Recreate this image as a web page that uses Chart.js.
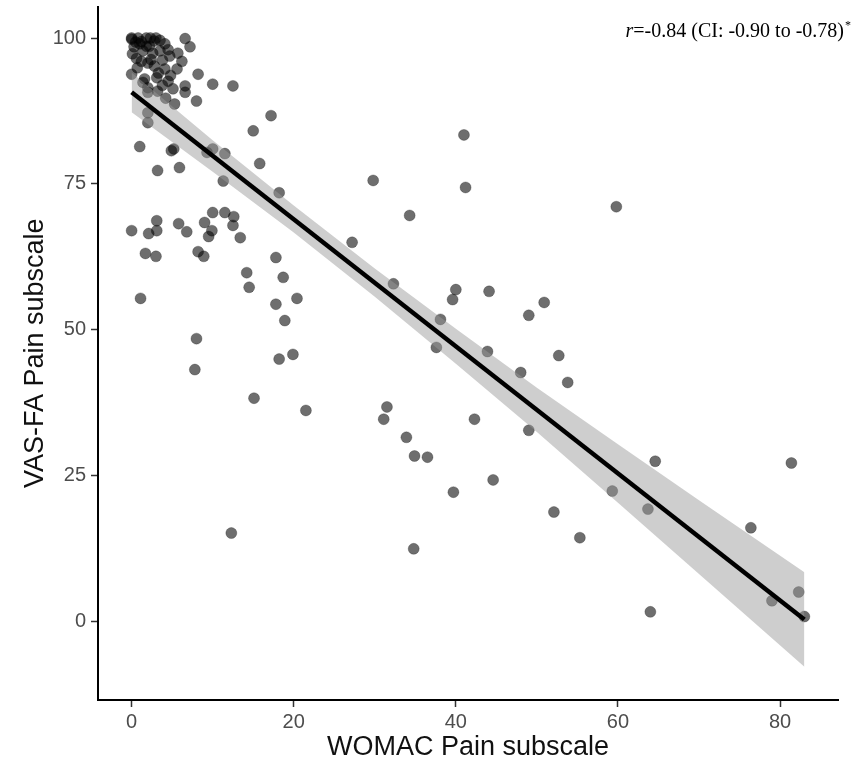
<!DOCTYPE html>
<html>
<head>
<meta charset="utf-8">
<script src="https://cdn.jsdelivr.net/npm/chart.js@4.4.1/dist/chart.umd.min.js"></script>
<style>
  html, body { margin: 0; padding: 0; background: #fff; }
</style>
</head>
<body>
<canvas id="myChart" width="854" height="773"></canvas>
<script>
// WOMAC pain (x) vs VAS-FA pain (y), one entry per subject
const womac = [
  0, 0.5, 1.8, 2.8, 4.1, 6.6, 7.2, 0.1, 1.4, 2.6, 3.5, 4.7, 5.7, 0, 0.7, 2, 2.8, 4.1, 5.6, 8.2,
  10, 1.6, 3.1, 4.5, 2, 3.2, 5.1, 6.6, 5.3, 6.6, 8, 2, 2, 12.5, 2, 17.2, 15, 1, 4.9, 5.2,
  10, 11.5, 9.3, 15.8, 3.2, 5.9, 11.3, 18.2, 1, 3.5, 2.2, 4.5, 1.2, 3.8, 6.2, 4.8, 3.8,
  0, 0.8, 1.2, 2.3, 3, 0.3, 1.8, 2.4, 3.3, 1.4, 4.2, 0.6,
  10, 11.5, 12.6, 12.5, 13.4, 0, 3.1, 3.1, 2.1, 5.8, 6.8, 9, 9.9, 9.5, 1.7, 3, 8.2, 8.9,
  17.8, 14.2, 18.7, 14.5, 1.1, 20.4, 17.8, 18.9, 8, 7.8, 18.2, 19.9, 15.1, 21.5, 12.3,
  41, 29.8, 41.2, 34.3, 27.2, 32.3, 40, 39.6, 44.1, 50.9, 49, 38.1, 37.6, 43.9, 52.7, 48,
  53.8, 31.5, 31.1, 42.3, 49, 33.9, 34.9, 36.5, 44.6, 39.7, 52.1, 55.3, 34.8, 59.8, 64.6,
  59.3, 63.7, 81.4, 76.4, 82.3, 79, 83, 64
];
const vasfa = [
  99.8, 99.3, 100, 99.5, 99, 99.9, 98.5, 97.3, 97.8, 97.4, 97.8, 96.9, 97.4, 93.8, 94.9, 95.7, 95.2, 94.7, 94.7, 93.8,
  92.1, 93, 93.2, 92.6, 91.5, 90.9, 91.3, 91.8, 88.7, 90.7, 89.2, 90.7, 87.2, 91.8, 85.5, 86.7, 84.1, 81.4, 80.7, 81,
  81, 80.2, 80.4, 78.5, 77.3, 77.8, 75.5, 73.5, 99, 99.6, 98.6, 98, 96, 96.2, 96, 93.6, 91.9,
  100, 100, 99.4, 100, 100, 98.5, 98.6, 96.3, 94, 92.4, 89.7, 96.5,
  70.1, 70.1, 69.4, 67.9, 65.8, 67, 68.7, 67, 66.5, 68.2, 66.8, 68.4, 67, 66, 63.1, 62.6, 63.4, 62.6,
  62.4, 59.8, 59, 57.3, 55.4, 55.4, 54.4, 51.6, 48.5, 43.2, 45, 45.8, 38.3, 36.2, 15.2,
  83.4, 75.6, 74.4, 69.6, 65, 57.9, 56.9, 55.2, 56.6, 54.7, 52.5, 51.8, 47, 46.3, 45.6, 42.7,
  41, 36.8, 34.7, 34.7, 32.8, 31.6, 28.4, 28.2, 24.3, 22.2, 18.8, 14.4, 12.5, 71.1, 27.5,
  22.4, 19.3, 27.2, 16.1, 5.1, 3.6, 0.9, 1.7
];

// linear fit and its 95% band
const fitX = [0, 83];
const fitY = [90.7, 0.4];
const bandX = [0, 10, 20, 30, 40, 50, 60, 70, 83];
const bandUpper = [94.1, 82.5, 71.3, 60.5, 50.2, 40.1, 30.4, 20.8, 8.5];
const bandLower = [87.3, 77.1, 66.7, 55.7, 44.2, 32.5, 20.4, 8.2, -7.7];

const xTicks = [0, 20, 40, 60, 80];
const yTicks = [0, 25, 50, 75, 100];

const xTitle = "WOMAC Pain subscale";
const yTitle = "VAS-FA Pain subscale";
const corrText = "=-0.84 (CI: -0.90 to -0.78)";

const toPoints = (xs, ys) => xs.map((x, i) => ({ x: x, y: ys[i] }));

const corrPlugin = {
  id: "corrText",
  afterDraw(chart) {
    const ctx = chart.ctx;
    ctx.save();
    ctx.fillStyle = "#000";
    ctx.textBaseline = "alphabetic";
    ctx.font = '20px "Liberation Serif"';
    const mainW = ctx.measureText(corrText).width;
    ctx.font = 'italic 20px "Liberation Serif"';
    const rW = ctx.measureText("r").width;
    const right = 844;
    const x0 = right - mainW - rW;
    ctx.fillText("r", x0, 37);
    ctx.font = '20px "Liberation Serif"';
    ctx.fillText(corrText, x0 + rW, 37);
    ctx.font = '12px "Liberation Serif"';
    ctx.fillText("*", right + 1, 29);
    ctx.restore();
  },
};

const tickFont = { family: '"Liberation Sans", Arial, sans-serif', size: 20 };
const titleFont = { family: '"Liberation Sans", Arial, sans-serif', size: 27 };

let ctx = document.getElementById("myChart").getContext("2d");

window.myChart = new Chart(ctx, {
  type: "scatter",
  data: {
    datasets: [
      {
        type: "line",
        data: toPoints(fitX, fitY),
        borderColor: "#000",
        borderWidth: 4.5,
        pointRadius: 0,
        fill: false,
      },
      {
        type: "line",
        data: toPoints(bandX, bandUpper),
        borderWidth: 0,
        borderColor: "rgba(0,0,0,0)",
        pointRadius: 0,
        fill: false,
      },
      {
        type: "line",
        data: toPoints(bandX, bandLower),
        borderWidth: 0,
        borderColor: "rgba(0,0,0,0)",
        backgroundColor: "rgba(153,153,153,0.48)",
        pointRadius: 0,
        fill: "-1",
      },
      {
        data: toPoints(womac, vasfa),
        pointRadius: 5.5,
        pointBackgroundColor: "rgba(0,0,0,0.57)",
        pointBorderColor: "rgba(0,0,0,0.25)",
        pointBorderWidth: 1,
      },
    ],
  },
  options: {
    responsive: false,
    animation: false,
    layout: { padding: { top: 5, right: 16, left: 0, bottom: 0 } },
    plugins: {
      legend: { display: false },
      tooltip: { enabled: false },
    },
    scales: {
      x: {
        type: "linear",
        min: -4.15,
        max: 87.15,
        afterBuildTicks: (scale) => {
          scale.ticks = xTicks.map((v) => ({ value: v }));
        },
        afterFit: (scale) => {
          scale.height = 73;
          scale.paddingLeft = 0;
          scale.paddingRight = 0;
        },
        grid: {
          drawOnChartArea: false,
          drawTicks: true,
          tickLength: 7,
          tickColor: "#333",
          tickWidth: 1.5,
        },
        border: { display: true, color: "#000", width: 2 },
        ticks: { font: tickFont, color: "#4d4d4d", padding: 3 },
        title: {
          display: true,
          text: xTitle,
          font: titleFont,
          color: "#111",
          padding: { top: 0, bottom: 9 },
        },
      },
      y: {
        type: "linear",
        min: -13.4,
        max: 105.4,
        afterBuildTicks: (scale) => {
          scale.ticks = yTicks.map((v) => ({ value: v }));
        },
        afterFit: (scale) => {
          scale.width = 98;
          scale.paddingTop = 0;
          scale.paddingBottom = 0;
        },
        grid: {
          drawOnChartArea: false,
          drawTicks: true,
          tickLength: 7,
          tickColor: "#333",
          tickWidth: 1.5,
        },
        border: { display: true, color: "#000", width: 2 },
        ticks: { font: tickFont, color: "#4d4d4d", padding: 5 },
        title: {
          display: true,
          text: yTitle,
          font: titleFont,
          color: "#111",
          padding: { top: 19, bottom: 0 },
        },
      },
    },
  },
  plugins: [corrPlugin],
});
</script>
</body>
</html>
